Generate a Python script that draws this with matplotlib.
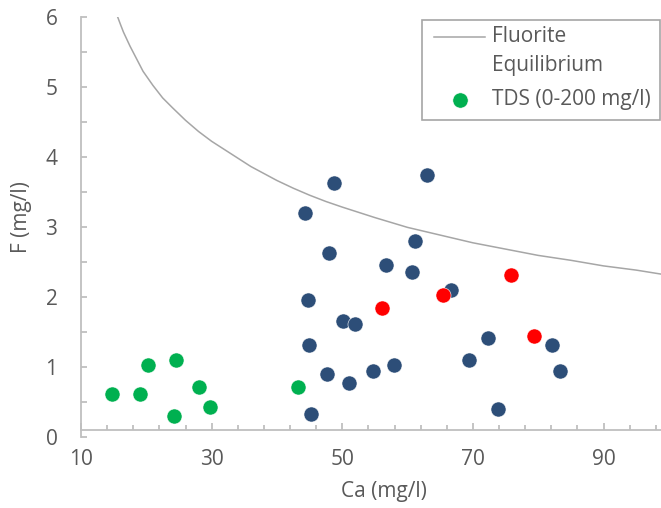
import matplotlib
matplotlib.use("Agg")
import matplotlib.pyplot as plt
from matplotlib.lines import Line2D
from matplotlib.patches import Rectangle
import numpy as np

# fluorite equilibrium curve
curve_ca = [15.6, 16.0, 16.5, 17.0, 17.5, 18.0, 18.5, 19.0, 19.5, 20.25, 21, 21.75,
            22.5, 23.25, 24, 25, 26, 27, 28, 29, 30, 31.5, 33, 34.5, 36, 38, 40,
            42.5, 45, 47.5, 50, 55, 60, 65, 70, 75, 80, 85, 90, 95, 99]
curve_f = [6.0, 5.9, 5.78, 5.68, 5.58, 5.49, 5.40, 5.31, 5.22, 5.12, 5.02, 4.93,
           4.84, 4.77, 4.70, 4.61, 4.52, 4.44, 4.36, 4.29, 4.22, 4.13, 4.04, 3.95,
           3.86, 3.76, 3.66, 3.55, 3.45, 3.36, 3.28, 3.13, 2.99, 2.88, 2.77, 2.68,
           2.59, 2.52, 2.44, 2.38, 2.32]

# TDS 0-200 mg/l (green)
tds_ca = [14.75, 19.0, 20.2, 24.5, 24.2, 28.1, 29.75, 43.2]
tds_f = [0.61, 0.61, 1.02, 1.09, 0.29, 0.71, 0.42, 0.71]

# second group (dark blue)
blue_ca = [48.8, 63.0, 44.35, 61.15, 48.0, 56.7, 60.7, 66.6, 44.7, 50.1, 51.9,
           44.9, 47.7, 51.0, 54.7, 57.9, 69.4, 45.2, 72.3, 82.1, 83.3, 73.8]
blue_f = [3.63, 3.74, 3.19, 2.80, 2.62, 2.46, 2.35, 2.09, 1.95, 1.66, 1.61,
          1.31, 0.89, 0.77, 0.94, 1.03, 1.09, 0.32, 1.41, 1.31, 0.94, 0.40]

# third group (red)
red_ca = [56.1, 65.4, 75.8, 79.4]
red_f = [1.84, 2.02, 2.31, 1.44]

W, H = 661, 508
GREY_TXT = "#595959"
GREY_AX = "#BFBFBF"
plt.rcParams["font.family"] = ["Open Sans", "DejaVu Sans"]

fig = plt.figure(figsize=(W / 100, H / 100), dpi=100)
ax = fig.add_axes([81 / W, (H - 436.7) / H, 580 / W, 420 / H])

ax.plot(curve_ca, curve_f, color="#A6A6A6", lw=1.1, zorder=1)
ax.scatter(blue_ca, blue_f, s=118, color="#2D4E78", edgecolors="white",
           linewidths=0.4, zorder=3)
ax.scatter(red_ca, red_f, s=118, color="#FF0000", edgecolors="white",
           linewidths=0.4, zorder=4)
ax.scatter(tds_ca, tds_f, s=118, color="#00B050", edgecolors="white",
           linewidths=0.4, zorder=5)

ax.set_xlim(10, 98.8)
ax.set_ylim(0, 6)
ax.set_xticks([10, 30, 50, 70, 90])
ax.set_xticks(np.arange(14, 99, 4), minor=True)
ax.set_yticks(range(7))
ax.set_yticks(np.arange(0.5, 6, 1.0), minor=True)

for s in ("top", "right"):
    ax.spines[s].set_visible(False)
for s in ("left", "bottom"):
    ax.spines[s].set_color(GREY_AX)
    ax.spines[s].set_linewidth(1.3)
ax.spines["bottom"].set_position(("data", 0.096))

ax.tick_params(axis="both", which="both", direction="in", color=GREY_AX,
               width=1.3, labelcolor=GREY_TXT, labelsize=15)
ax.tick_params(axis="x", which="major", length=5, pad=14)
ax.tick_params(axis="x", which="minor", length=3.6)
ax.tick_params(axis="y", which="both", length=4.5, pad=17)

ax.set_xlabel("Ca (mg/l)", fontsize=15, color=GREY_TXT, va="center")
ax.xaxis.set_label_coords(0.522, (436.7 - 492) / 420)
ax.set_ylabel("F (mg/l)", fontsize=15, color=GREY_TXT, va="center")
ax.yaxis.set_label_coords((22 - 81) / 580, (436.7 - 217) / 420)


# legend drawn by hand so the line sits next to the first text line
def fx(px):
    return px / W


def fy(py):
    return (H - py) / H


fig.patches.append(Rectangle((fx(421.7), fy(120)), fx(660) - fx(421.7),
                             fy(20) - fy(120), transform=fig.transFigure,
                             fill=False, edgecolor="#A6A6A6", lw=1.2))
fig.lines.append(Line2D([fx(434), fx(485)], [fy(36.7), fy(36.7)],
                        transform=fig.transFigure, color="#A6A6A6", lw=1.1))
fig.lines.append(Line2D([fx(460)], [fy(100)], transform=fig.transFigure,
                        marker="o", ms=11, color="#00B050", mec="white", mew=0.4))
for txt, py in [("Fluorite", 36.7), ("Equilibrium", 65), ("TDS (0-200 mg/l)", 100)]:
    fig.text(fx(491.7), fy(py), txt, fontsize=15, color=GREY_TXT,
             ha="left", va="center")

fig.savefig("out.png", dpi=100)
